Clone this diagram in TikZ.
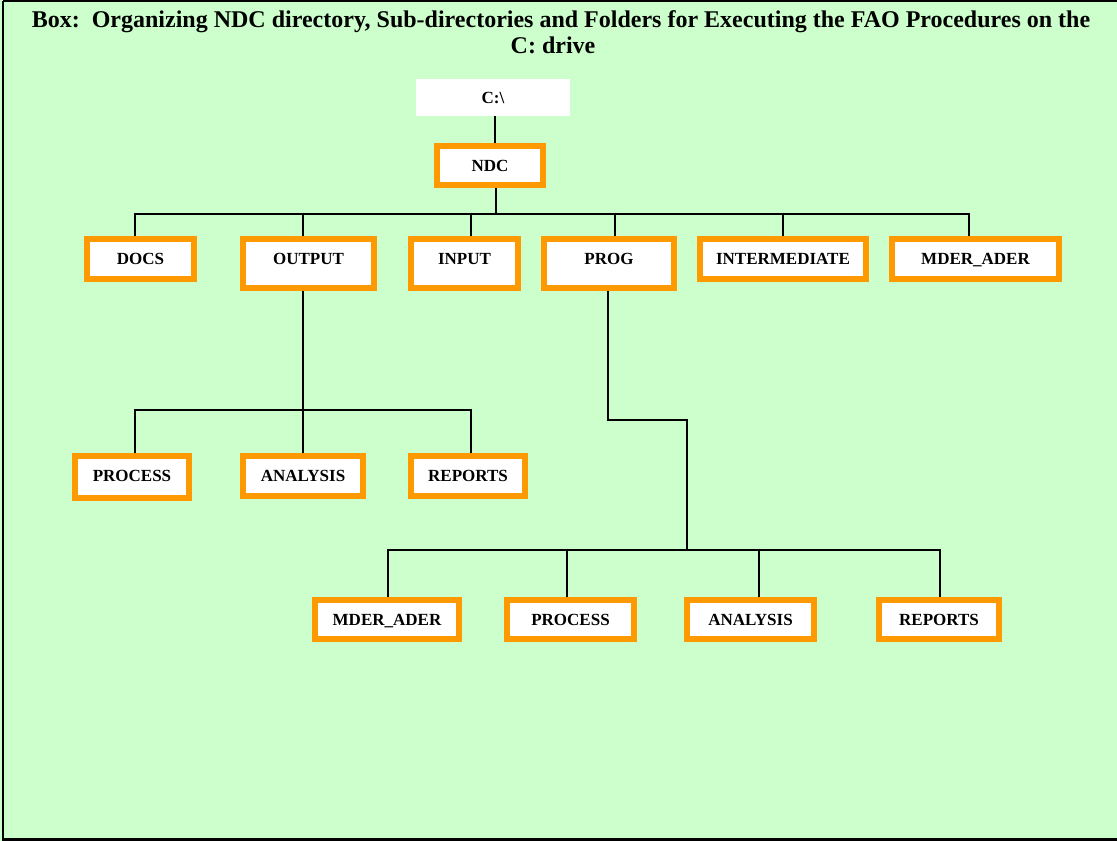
\documentclass[tikz,border=0pt]{standalone}
\usepackage{fontspec}
\setmainfont{Liberation Serif}
\definecolor{bggreen}{HTML}{CCFFCC}
\definecolor{boxorange}{HTML}{FF9900}
% #1 name, #2 x1, #3 y1, #4 x2, #5 y2 (outer edges), #6 baseline y, #7 text
\newcommand\folderbox[7]{%
  \pgfmathsetmacro\fbw{#4-#2-6}%
  \pgfmathsetmacro\fbh{#6-#3-3}%
  \pgfmathsetmacro\fbd{#5-3-#6}%
  \pgfmathsetmacro\fbx{(#2+#4)/2}%
  \node[folder, anchor=base, minimum width=\fbw pt, text height=\fbh pt, text depth=\fbd pt]
    (#1) at (\fbx,#6) {#7};}
\begin{document}
\begin{tikzpicture}[x=1pt,y=-1pt,
  folder/.style={draw=boxorange, line width=6pt, fill=white, inner sep=0pt,
    font=\fontsize{17}{19}\selectfont\bfseries},
  titletext/.style={font=\fontsize{24}{27}\selectfont\bfseries, anchor=base, inner sep=0pt},
  conn/.style={draw=black, line width=2pt}]
\useasboundingbox (0,0) rectangle (1117,841);
\fill[bggreen] (0,0) rectangle (1117,841);
\draw[line width=2.5pt] (3,1) -- (1125,1) (3,1) -- (3,839.5) -- (1125,839.5);
\node[titletext] (title1) at (561,27)
  {Box:\ \ Organizing NDC directory, Sub-directories and Folders for Executing the FAO Procedures on the};
\node[titletext] (title2) at (553,53) {C: drive};
% root
\node[fill=white, minimum width=154pt, minimum height=37pt, inner sep=0pt,
  font=\fontsize{17}{19}\selectfont\bfseries] (c) at (493,97.5) {C:\textbackslash};
\folderbox{ndc}{434}{143}{546}{188}{171}{NDC}
% level 1
\folderbox{docs}{84}{236}{197}{282}{264}{DOCS}
\folderbox{output}{240}{236}{377}{291}{264}{OUTPUT}
\folderbox{input}{408}{236}{521}{291}{264}{INPUT}
\folderbox{prog}{541}{236}{677}{291}{264}{PROG}
\folderbox{inter}{697}{236}{869}{282}{264}{INTERMEDIATE}
\folderbox{mder}{889}{236}{1062}{282}{264}{MDER\_ADER}
% level 2 (output)
\folderbox{oproc}{72}{453}{192}{501}{481}{PROCESS}
\folderbox{oanal}{240}{453}{366}{499}{481}{ANALYSIS}
\folderbox{orep}{408}{453}{528}{499}{481}{REPORTS}
% level 2 (prog)
\folderbox{pmder}{312}{597}{462}{642}{625}{MDER\_ADER}
\folderbox{pproc}{504}{597}{637}{642}{625}{PROCESS}
\folderbox{panal}{684}{597}{817}{642}{625}{ANALYSIS}
\folderbox{prep}{876}{597}{1002}{642}{625}{REPORTS}
% bus coordinates
\coordinate (b1) at (0,214);
\coordinate (b2) at (0,410);
\coordinate (b3) at (0,550);
% connectors
\draw[conn] ([xshift=2pt]c.south) -- ([xshift=5pt]ndc.north);
\draw[conn] ([xshift=6pt]ndc.south) -- ([xshift=6pt]ndc.south |- b1);
\draw[conn] ([xshift=-5.5pt]docs.north) |- ([xshift=-6.5pt]mder.north |- b1) -- ([xshift=-6.5pt]mder.north);
\draw[conn] ([xshift=-5.5pt]output.north) -- ([xshift=-5.5pt]output.north |- b1);
\draw[conn] ([xshift=6.5pt]input.north) -- ([xshift=6.5pt]input.north |- b1);
\draw[conn] ([xshift=6pt]prog.north) -- ([xshift=6pt]prog.north |- b1);
\draw[conn] (inter.north) -- (inter.north |- b1);
% output subtree
\draw[conn] ([xshift=-5.5pt]output.south) -- (oanal.north);
\draw[conn] ([xshift=3pt]oproc.north) |- ([xshift=3pt]orep.north |- b2) -- ([xshift=3pt]orep.north);
% prog subtree
\coordinate (pjoin) at (687,420);
\draw[conn] ([xshift=-1pt]prog.south) |- (pjoin) -- (pjoin |- b3);
\draw[conn] ([xshift=1pt]pmder.north) |- ([xshift=1pt]prep.north |- b3) -- ([xshift=1pt]prep.north);
\draw[conn] ([xshift=-3.5pt]pproc.north) -- ([xshift=-3.5pt]pproc.north |- b3);
\draw[conn] ([xshift=8.5pt]panal.north) -- ([xshift=8.5pt]panal.north |- b3);
\end{tikzpicture}
\end{document}
